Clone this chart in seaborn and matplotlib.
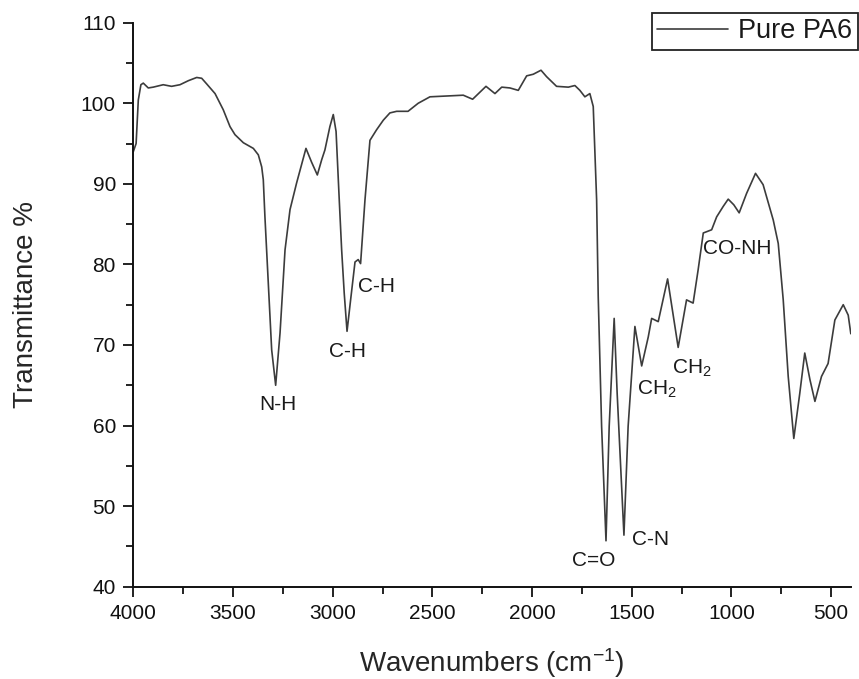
import numpy as np
import pandas as pd
import seaborn as sns
import matplotlib.pyplot as plt
from matplotlib.ticker import MultipleLocator

# FTIR spectrum of pure PA6
wavenumber = [4000, 3986, 3975, 3962, 3950, 3925, 3900, 3850, 3808, 3766,
              3724, 3682, 3657, 3632, 3590, 3549, 3515, 3490, 3448, 3398,
              3373, 3356, 3348, 3340, 3323, 3306, 3286, 3264, 3239, 3214,
              3181, 3134, 3106, 3077, 3055, 3039, 3014, 2997, 2983, 2967,
              2955, 2942, 2928, 2910, 2888, 2872, 2860, 2838, 2813, 2780,
              2746, 2713, 2679, 2622, 2571, 2512, 2428, 2345, 2298, 2231,
              2186, 2152, 2111, 2069, 2027, 1994, 1955, 1927, 1877, 1818,
              1785, 1760, 1735, 1710, 1693, 1676, 1668, 1651, 1629, 1613,
              1588, 1573, 1539, 1518, 1484, 1450, 1417, 1400, 1367, 1320,
              1267, 1225, 1192, 1167, 1141, 1099, 1074, 1041, 1016, 988,
              961, 924, 879, 841, 790, 765, 740, 715, 687, 657,
              632, 606, 581, 548, 515, 481, 439, 414, 401]
transmittance = [94.0, 95.0, 100.4, 102.3, 102.5, 101.9, 102.0, 102.3, 102.1, 102.3,
                 102.8, 103.2, 103.1, 102.4, 101.2, 99.2, 97.1, 96.1, 95.1, 94.4,
                 93.6, 92.1, 90.5, 86.0, 77.7, 69.4, 65.0, 71.5, 81.8, 86.8,
                 90.1, 94.4, 92.7, 91.1, 93.0, 94.2, 97.1, 98.6, 96.5, 88.0,
                 81.8, 76.4, 71.7, 75.6, 80.3, 80.6, 80.1, 88.0, 95.4, 96.7,
                 97.9, 98.8, 99.0, 99.0, 100.0, 100.8, 100.9, 101.0, 100.5, 102.1,
                 101.2, 102.0, 101.9, 101.6, 103.4, 103.6, 104.1, 103.3, 102.1, 102.0,
                 102.2, 101.6, 100.8, 101.2, 99.6, 88.0, 76.0, 59.9, 45.7, 59.9,
                 73.3, 64.0, 46.4, 59.9, 72.3, 67.4, 71.0, 73.3, 72.9, 78.2,
                 69.7, 75.6, 75.2, 79.3, 83.9, 84.3, 85.9, 87.2, 88.1, 87.4,
                 86.4, 88.8, 91.3, 89.9, 85.5, 82.6, 75.6, 66.1, 58.4, 64.0,
                 69.0, 65.7, 63.0, 66.1, 67.7, 73.1, 75.0, 73.7, 71.4]

# peak assignments: label, wavenumber, transmittance (left / baseline of text)
peak_labels = ['N-H', 'C-H', 'C-H', 'C=O', 'C-N', 'CH$_2$', 'CH$_2$', 'CO-NH']
peak_wn = [3368, 3017, 2872, 1802, 1501, 1476, 1300, 1141]
peak_t = [61.9, 68.5, 76.6, 42.6, 45.2, 63.8, 66.4, 81.3]

df = pd.DataFrame({'wavenumber': wavenumber, 'transmittance': transmittance})

sns.set_style('ticks')
plt.rcParams['font.family'] = ['Liberation Sans', 'DejaVu Sans']
plt.rcParams['mathtext.default'] = 'regular'
plt.rcParams['text.color'] = '#1a1a1a'

fig = plt.figure(figsize=(8.59, 6.79), dpi=100)
ax = fig.add_axes([0.1552, 0.1359, 0.8355, 0.8307])

sns.lineplot(data=df, x='wavenumber', y='transmittance', ax=ax, sort=False,
             color='#3c3c3c', linewidth=1.2, label='Pure PA6')

for lab, w, t in zip(peak_labels, peak_wn, peak_t):
    ax.text(w, t, lab, fontsize=15, ha='left', va='baseline', color='#1a1a1a')

ax.set_xlim(4000, 400)
ax.set_ylim(40, 110)
ax.xaxis.set_major_locator(MultipleLocator(500))
ax.xaxis.set_minor_locator(MultipleLocator(250))
ax.yaxis.set_major_locator(MultipleLocator(10))
ax.yaxis.set_minor_locator(MultipleLocator(5))

sns.despine(ax=ax)
for s in ('left', 'bottom'):
    ax.spines[s].set_linewidth(1.4)
    ax.spines[s].set_color('#111111')
ax.tick_params(which='major', direction='out', length=7, width=1.3,
               labelsize=15, colors='#111111', pad=5.5)
ax.tick_params(which='minor', direction='out', length=4.7, width=1.3,
               colors='#111111')

ax.set_xlabel('Wavenumbers (cm$^{-1}$)', fontsize=20)
ax.set_ylabel('Transmittance %', fontsize=20)
ax.xaxis.set_label_coords(0.499, -0.105)
ax.yaxis.set_label_coords(-0.131, 0.5)

leg = ax.legend(loc='upper right', bbox_to_anchor=(858 / 859, 1 - 13 / 679),
                bbox_transform=fig.transFigure, borderaxespad=0, fontsize=19.5,
                frameon=True, fancybox=False, framealpha=1, handlelength=2.6,
                handletextpad=0.4, borderpad=0.2)
leg.get_frame().set_edgecolor('#222222')
leg.get_frame().set_linewidth(1.3)

fig.savefig('out.png', dpi=100)
